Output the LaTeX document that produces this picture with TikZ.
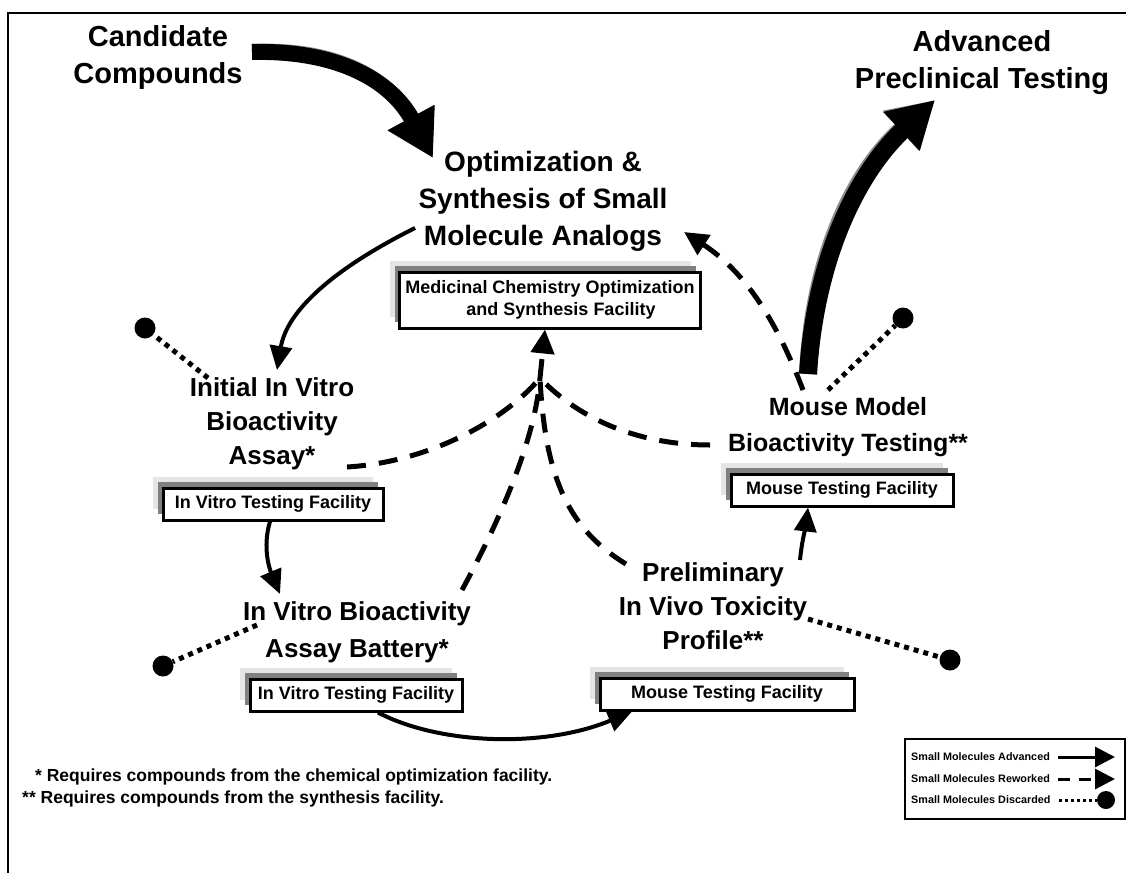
\documentclass[tikz,border=0pt]{standalone}
\usepackage{fontspec}
\setmainfont{Liberation Sans}
\usetikzlibrary{arrows.meta,shadows}
\begin{document}
\begin{tikzpicture}[x=1pt,y=-1pt,
  hd/.style={font=\fontsize{26}{34}\selectfont\bfseries, align=center, inner sep=0pt},
  bighd/.style={font=\fontsize{29}{37}\selectfont\bfseries, align=center, inner sep=0pt},
  fac/.style={draw, line width=3pt, fill=white, font=\fontsize{18}{22}\selectfont\bfseries,
     align=center, inner sep=0pt,
     general shadow={shadow xshift=-10pt, shadow yshift=11pt, fill=black!10, draw=none},
     general shadow={shadow xshift=-5pt, shadow yshift=6pt, fill=black!50, draw=none}},
  adv/.style={line width=4pt, -{Triangle[length=24pt,width=22pt]}},
  rew/.style={line width=5pt, dash pattern=on 19pt off 13pt},
  rewarr/.style={rew, -{Triangle[length=24pt,width=23pt]}},
  dis/.style={line width=5pt, dash pattern=on 5pt off 5pt},
  dotend/.style={circle, fill=black, minimum size=21pt, inner sep=0pt},
  bigarr/.style={line width=16pt, -{Triangle[length=46pt,width=50pt]}},
  bigshade/.style={bigarr, black!45, xshift=-2pt, yshift=2pt},
  ftxt/.style={font=\fontsize{17.5}{22}\selectfont\bfseries, anchor=west, inner sep=0pt},
  ltxt/.style={font=\fontsize{10.8}{12}\selectfont\bfseries, anchor=west, inner sep=0pt},
]
\path[use as bounding box] (0,0) rectangle (1126,872);
\clip (0,0) rectangle (1126,872);
\fill[white] (0,0) rectangle (1126,872);
% frame (top and left visible)
\draw[line width=2pt] (7.5,900) -- (7.5,13) -- (1150,13);

% headings
\node[bighd] (cand) at (158,58) {Candidate\\Compounds};
\node[bighd] (apt) at (982,63) {Advanced\\Preclinical Testing};
\node[hd, font=\fontsize{28}{37}\selectfont\bfseries] (opt) at (543,201) {Optimization \&\\Synthesis of Small\\Molecule Analogs};
\node[hd] (init) at (272,424) {Initial In Vitro\\Bioactivity\\Assay*};
\node[hd, font=\fontsize{26}{37}\selectfont\bfseries] (batt) at (357,632) {In Vitro Bioactivity\\Assay Battery*};
\node[hd] (prel) at (713,606) {Preliminary\\In Vivo Toxicity\\Profile**};
\node[hd, font=\fontsize{25}{36}\selectfont\bfseries] (mm) at (848,427) {Mouse Model\\Bioactivity Testing**};

% facility boxes
\node[fac, minimum width=301pt, minimum height=56pt] (medc) at (550,300)
  {Medicinal Chemistry Optimization\\\hspace*{22pt}and Synthesis Facility};
\node[fac, minimum width=220pt, minimum height=32pt] (vt1) at (273,504) {In Vitro Testing Facility};
\node[fac, minimum width=212pt, minimum height=32pt] (vt2) at (356,695) {In Vitro Testing Facility};
\node[fac, minimum width=254pt, minimum height=32pt] (ms3) at (727,694) {Mouse Testing Facility};
\node[fac, minimum width=222pt, minimum height=32pt] (ms4) at (842,490) {Mouse Testing Facility};

% dots
\node[dotend] (d1) at (145,328) {};
\node[dotend] (d2) at (903,318) {};
\node[dotend] (d3) at (163,666) {};
\node[dotend] (d4) at (950,660) {};

% coordinates for connector ends
\coordinate (c1s) at (252,52);
\coordinate (c1e) at (433,158);
\coordinate (c2s) at (808,374);
\coordinate (c2e) at (935,100);
\coordinate (oL) at (415,228);
\coordinate (iT) at (277,370);
\coordinate (bT) at (280,594);
\coordinate (pT) at (800,560);
\coordinate (J) at (540,378);
\coordinate (iR) at (347,467);
\coordinate (mL) at (710,445);
\coordinate (bR) at (462,590);
\coordinate (pL) at (626,564);
\coordinate (mT) at (803,390);
\coordinate (oR) at (684,232);
\coordinate (iTL) at (208,378);
\coordinate (mTR) at (828,390);
\coordinate (bL) at (257,625);
\coordinate (pR) at (808,619);

% big arrows (grey edge, then black)
\draw[bigshade] (c1s) .. controls (340,50) and (392,82) .. (c1e);
\draw[bigarr] (c1s) .. controls (340,50) and (392,82) .. (c1e);
\draw[bigshade, line width=18pt] (c2s) .. controls (815,262) and (855,175) .. (c2e);
\draw[bigarr, line width=18pt] (c2s) .. controls (815,262) and (855,175) .. (c2e);

% advanced (solid) connectors
\draw[adv] (oL) .. controls (335,268) and (287,310) .. (iT);
\draw[adv] (vt1.south -| 270,0) .. controls (262,548) and (270,570) .. (bT);
\draw[adv] (vt2.south -| 378,0) .. controls (440,745) and (545,748) .. (ms3.south west -| 632,0);
\draw[adv] (pT) .. controls (802,540) and (806,525) .. (ms4.south -| 808,0);

% reworked (dashed) connectors
\draw[rew] (iR) .. controls (430,462) and (505,420) .. (J);
\draw[rew] (mL) .. controls (640,445) and (580,420) .. (J);
\draw[rew] (bR) .. controls (500,520) and (535,440) .. (J);
\draw[rew] (pL) .. controls (570,530) and (545,480) .. (J);
\draw[rewarr] (J) -- (medc.south -| 545,0);
\draw[rewarr] (mT) .. controls (780,330) and (750,275) .. (oR);

% discarded (dotted) connectors
\draw[dis] (iTL) -- (d1);
\draw[dis] (mTR) -- (d2);
\draw[dis] (bL) -- (d3);
\draw[dis] (pR) -- (d4);

% footnotes
\node[ftxt] (fn1) at (35,777) {* Requires compounds from the chemical optimization facility.};
\node[ftxt] (fn2) at (22,799) {** Requires compounds from the synthesis facility.};

% legend
\node[draw, line width=2pt, minimum width=220pt, minimum height=80pt, anchor=north west] (lg) at (904,738) {};
\node[ltxt] (l1) at (911,757) {Small Molecules Advanced};
\node[ltxt] (l2) at (911,779) {Small Molecules Reworked};
\node[ltxt] (l3) at (911,800) {Small Molecules Discarded};
\coordinate (l1e) at (1115,757);
\coordinate (l2e) at (1115,779);
\draw[line width=3pt, -{Triangle[length=20pt,width=20pt]}] ([xshift=8pt]l1.east) -- (l1e);
\draw[line width=3pt, dash pattern=on 12pt off 9pt, -{Triangle[length=20pt,width=20pt]}] ([xshift=8pt]l2.east) -- (l2e);
\node[dotend, minimum size=18pt] (ld) at (1106,800) {};
\draw[line width=3pt, dash pattern=on 3pt off 3pt] ([xshift=8pt]l3.east) -- (ld);
\end{tikzpicture}
\end{document}
